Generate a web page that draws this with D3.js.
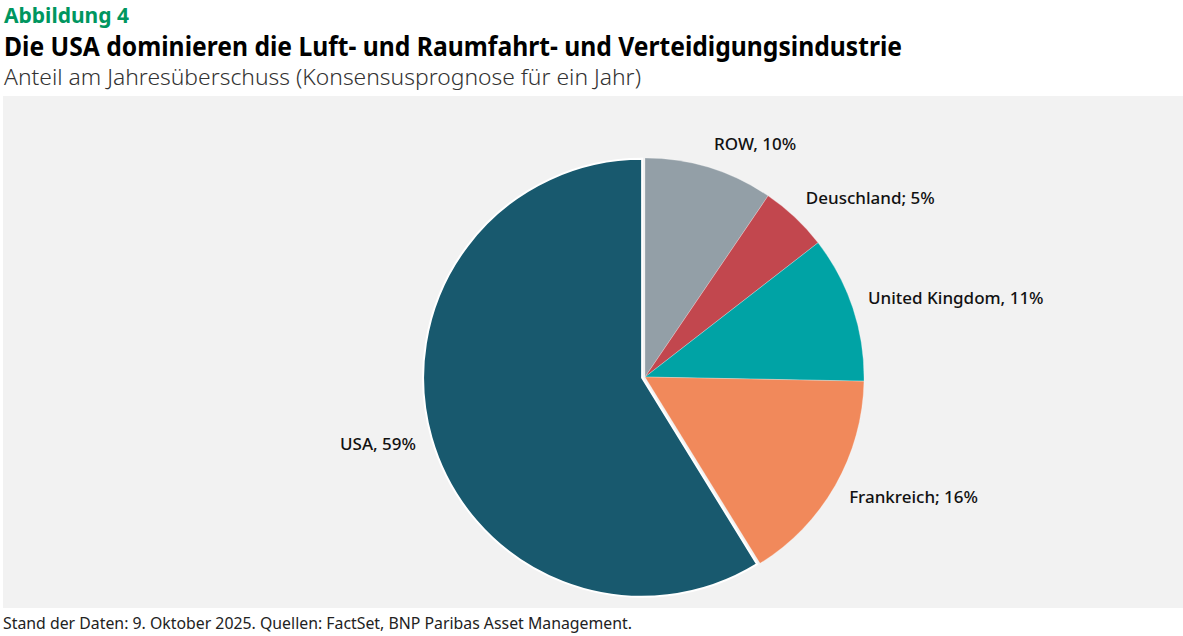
<!DOCTYPE html>
<html>
<head>
<meta charset="utf-8">
<script src="https://cdn.jsdelivr.net/npm/d3@7"></script>
<style>
  html, body { margin: 0; padding: 0; background: #ffffff; }
  svg { display: block; }
</style>
</head>
<body>
<svg id="chart" width="1183" height="636"></svg>
<script>
// ---- Daten
const regionen = ["ROW", "Deuschland", "United Kingdom", "Frankreich", "USA"];
const anteile = [9.5, 5.0, 10.8, 15.9, 58.8];
const trenner = [", ", "; ", ", ", "; ", ", "];
const farben = ["#939fa7", "#c2474e", "#00a3a5", "#f1895b", "#18596e"];

const svg = d3.select('#chart');
const W = 1183, H = 636;

// ---- Titel
function fitText(sel, width) {
    sel.attr('textLength', width).attr('lengthAdjust', 'spacingAndGlyphs');
}
svg.append('text')
    .attr('x', 4).attr('y', 23)
    .attr('fill', '#00965f')
    .style('font', 'bold 22px "Noto Sans"')
    .text('Abbildung 4')
    .call(fitText, 125);

svg.append('text')
    .attr('x', 4).attr('y', 56)
    .attr('fill', '#000')
    .style('font', 'bold 26px "Noto Sans"')
    .text('Die USA dominieren die Luft- und Raumfahrt- und Verteidigungsindustrie')
    .call(fitText, 898);

svg.append('text')
    .attr('x', 4).attr('y', 85)
    .attr('fill', '#333')
    .style('font', '300 22px "Noto Sans"')
    .text('Anteil am Jahresüberschuss (Konsensusprognose für ein Jahr)')
    .call(fitText, 637);

// ---- Panel
svg.append('rect')
    .attr('x', 3).attr('y', 96)
    .attr('width', W - 3).attr('height', 512)
    .attr('fill', '#f2f2f2');

svg.append('text')
    .attr('x', 3).attr('y', 629)
    .attr('fill', '#222')
    .style('font', '16px "Noto Sans"')
    .text('Stand der Daten: 9. Oktober 2025. Quellen: FactSet, BNP Paribas Asset Management.')
    .call(fitText, 629);

// ---- Torte
const cx = 645, cy = 377, r = 219;
const daten = regionen.map((name, i) => ({ name, wert: anteile[i], farbe: farben[i], sep: trenner[i] }));

const pie = d3.pie().value(d => d.wert).sort(null);
const arc = d3.arc().innerRadius(0).outerRadius(r);
const boegen = pie(daten);

const g = svg.append('g').attr('transform', `translate(${cx},${cy})`);

// USA-Segment leicht herausgezogen
const explode = d => d.data.name === 'USA' ? 3 : 0;
const mid = d => (d.startAngle + d.endAngle) / 2;

g.selectAll('path')
    .data(boegen)
    .join('path')
    .attr('d', arc)
    .attr('transform', d => {
        const e = explode(d), a = mid(d);
        return `translate(${Math.sin(a) * e},${-Math.cos(a) * e})`;
    })
    .attr('fill', d => d.data.farbe)
    .attr('stroke', '#ffffff')
    .attr('stroke-width', d => d.data.name === 'USA' ? 2 : 0.5)
    .attr('stroke-opacity', d => d.data.name === 'USA' ? 1 : 0.5);

// ---- Beschriftungen
const labelR = r + 16;
g.selectAll('text.lbl')
    .data(boegen)
    .join('text')
    .attr('class', 'lbl')
    .each(function (d) {
        const a = mid(d), e = explode(d);
        const s = Math.sin(a), c = Math.cos(a);
        const px = s * (labelR + e);
        const py = -c * (labelR + e) - Math.sign(c) * 7 * Math.sqrt(Math.abs(c)) - 2;
        d3.select(this)
            .attr('x', px)
            .attr('y', py)
            .attr('text-anchor', s >= 0 ? 'start' : 'end')
            .attr('dominant-baseline', 'central');
    })
    .attr('fill', '#111')
    .style('font', '500 17px "Noto Sans"')
    .text(d => `${d.data.name}${d.data.sep}${Math.round(d.data.wert)}%`);
</script>
</body>
</html>
